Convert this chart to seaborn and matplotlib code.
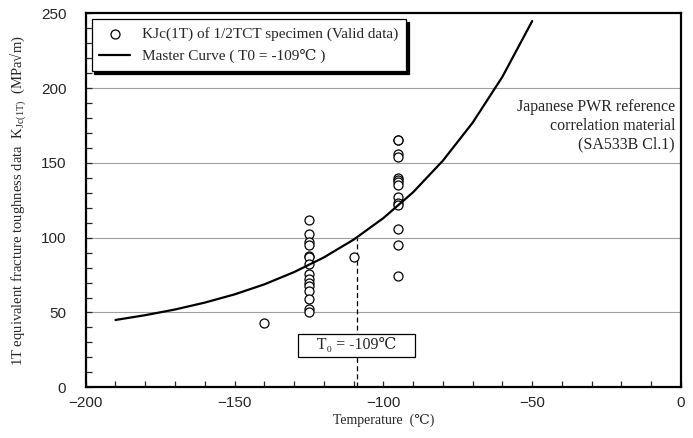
import numpy as np
import pandas as pd
import matplotlib
matplotlib.use("Agg")
import matplotlib.pyplot as plt
from matplotlib.ticker import MultipleLocator
import seaborn as sns

# measured KJc(1T) points (valid data)
temp_valid = [-140, -125, -125, -125, -125, -125, -125, -125, -125, -125, -125,
              -125, -125, -125, -125, -125, -110,
              -95, -95, -95, -95, -95, -95, -95, -95, -95, -95, -95, -95, -95, -95]
kjc_valid = [43, 112, 102.5, 97, 95, 88, 87, 82.5, 75.5, 72.5, 70, 67.5, 64.5, 59, 52, 50.5, 87,
             165.5, 165, 156, 154, 140, 138.5, 137, 135.5, 127, 123, 122, 105.5, 95, 74.5]

# master curve
mc_temp = [-190, -180, -170, -160, -150, -140, -130, -120, -110, -100, -90, -80, -70, -60, -50]
mc_kjc = [45.0, 48.2, 52.0, 56.6, 62.1, 68.8, 77.0, 86.8, 98.7, 113.1, 130.4, 151.5, 176.9, 207.6, 244.8]

T0 = -109
kjc_at_t0 = 100

sns.set_style("ticks")
plt.rcParams["font.family"] = ["Liberation Serif", "DejaVu Serif"]
plt.rcParams["mathtext.fontset"] = "custom"
plt.rcParams["mathtext.rm"] = "Liberation Serif"
plt.rcParams["mathtext.it"] = "Liberation Serif:italic"

df_pts = pd.DataFrame({"temp": temp_valid, "kjc": kjc_valid})
df_mc = pd.DataFrame({"temp": mc_temp, "kjc": mc_kjc})

fig = plt.figure(figsize=(6.93, 4.38), dpi=100)
ax = fig.add_axes([0.1237, 0.1158, 0.859, 0.8538])

for yv in [50, 100, 150, 200]:
    ax.axhline(yv, color="#a0a0a0", lw=0.8, zorder=0)

ax.plot([T0, T0], [0, kjc_at_t0], ls=(0, (4, 2.5)), color="black", lw=0.9, zorder=1)

sns.scatterplot(data=df_pts, x="temp", y="kjc", ax=ax, marker="o", s=42,
                facecolor="white", edgecolor="black", linewidth=0.9,
                label="KJc(1T) of 1/2TCT specimen (Valid data)", zorder=3)
sns.lineplot(data=df_mc, x="temp", y="kjc", ax=ax, color="black", lw=1.6,
             label="Master Curve ( T0 = -109\u2103 )", zorder=4)

ax.set_xlim(-200, 0)
ax.set_ylim(0, 250)
ax.xaxis.set_major_locator(MultipleLocator(50))
ax.xaxis.set_minor_locator(MultipleLocator(10))
ax.yaxis.set_major_locator(MultipleLocator(50))
ax.yaxis.set_minor_locator(MultipleLocator(10))
ax.tick_params(which="both", direction="in", length=4, width=0.9, top=False, right=False)
ax.tick_params(axis="y", which="major", pad=14)
ax.tick_params(axis="x", which="major", pad=6)
for lab in ax.get_xticklabels() + ax.get_yticklabels():
    lab.set_fontfamily("Liberation Sans")
    lab.set_fontsize(11)
for sp in ax.spines.values():
    sp.set_linewidth(1.6)
    sp.set_color("black")

ax.set_xlabel("Temperature  (\u2103)", fontsize=10, labelpad=3)
ax.set_ylabel("1T equivalent fracture toughness data  K$_{\\mathrm{Jc(1T)}}$  (MPa\u221am)",
              fontsize=10.5, labelpad=9)

leg = ax.legend(loc="upper left", bbox_to_anchor=(0.01, 0.984), borderaxespad=0,
                fancybox=False, edgecolor="black", framealpha=1, fontsize=11,
                shadow={"color": "black", "alpha": 1}, handlelength=2.0,
                borderpad=0.5, labelspacing=0.55)
leg.get_frame().set_linewidth(0.9)

ax.text(-2, 175, "Japanese PWR reference\ncorrelation material\n(SA533B Cl.1)",
        ha="right", va="center", multialignment="right", fontsize=11.5, linespacing=1.2)

ax.text(T0, 28, "    T\u2080 = -109\u2103    ", ha="center", va="center", fontsize=11.5, zorder=5,
        bbox=dict(boxstyle="square,pad=0.2", facecolor="white", edgecolor="black", lw=0.9))

fig.savefig("out.png", dpi=100)
